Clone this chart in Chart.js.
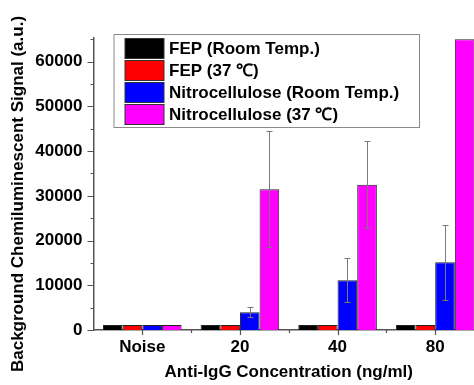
<!DOCTYPE html>
<html><head><meta charset="utf-8">
<script src="https://cdn.jsdelivr.net/npm/chart.js@4/dist/chart.umd.min.js"></script>
<style>html,body{margin:0;padding:0;background:#fff;overflow:hidden}#wrap{width:474px;height:385px;overflow:hidden}canvas{display:block}</style>
</head><body><div id="wrap"><canvas id="c" width="495" height="385" style="width:495px;height:385px"></canvas></div>
<script>
const categories = ['Noise', '20', '40', '80'];
const seriesLabels = ['FEP (Room Temp.)', 'FEP (37 ℃)', 'Nitrocellulose (Room Temp.)', 'Nitrocellulose (37 ℃)'];
const fepRoom = [1100, 1100, 1100, 1100];
const fep37 = [1100, 1100, 1100, 1100];
const nitroRoom = [1100, 3950, 11150, 15150];
const nitro37 = [1100, 31500, 32500, 65000];
const fepRoomErr = [0, 0, 0, 0];
const fep37Err = [0, 0, 0, 0];
const nitroRoomErr = [0, 1120, 4950, 8400];
const nitro37Err = [0, 12900, 9800, 0];
const yTicks = [0, 10000, 20000, 30000, 40000, 50000, 60000];
const yMinorStep = 5000;
const yMax = 65300;
const xTitle = 'Anti-IgG Concentration (ng/ml)';
const yTitle = 'Background Chemiluminescent Signal (a.u.)';

const FONT = '"Liberation Sans", Arial, Helvetica, sans-serif';
const FS = 17;
const colors = ['#000000', '#ff0000', '#0000ff', '#ff00ff'];
const values = [fepRoom, fep37, nitroRoom, nitro37];
const errs = [fepRoomErr, fep37Err, nitroRoomErr, nitro37Err];

const decor = {
  id: 'decor',
  afterDatasetsDraw(chart) {
    const ctx = chart.ctx, ys = chart.scales.y, a = chart.chartArea;
    ctx.save();
    ctx.beginPath(); ctx.rect(a.left, a.top, a.right - a.left, a.bottom - a.top); ctx.clip();
    ctx.strokeStyle = '#7a7a7a'; ctx.lineWidth = 1;
    chart.data.datasets.forEach((ds, di) => {
      const meta = chart.getDatasetMeta(di);
      ds.errors.forEach((e, i) => {
        if (!e) return;
        const bar = meta.data[i];
        const x = Math.round(bar.x) + 0.5;
        const v = ds.data[i];
        const yt = Math.round(ys.getPixelForValue(v + e)) + 0.5;
        const yb = Math.round(ys.getPixelForValue(v - e)) + 0.5;
        ctx.beginPath();
        ctx.moveTo(x, yt); ctx.lineTo(x, yb);
        ctx.moveTo(x - 3, yt); ctx.lineTo(x + 3, yt);
        ctx.moveTo(x - 3, yb); ctx.lineTo(x + 3, yb);
        ctx.stroke();
      });
    });
    ctx.restore();
  },
  afterDraw(chart) {
    const ctx = chart.ctx, ys = chart.scales.y, xs = chart.scales.x, a = chart.chartArea;
    ctx.save();
    ctx.strokeStyle = '#555'; ctx.lineWidth = 1.2;
    ctx.beginPath();
    for (let v = 0; v <= yMax; v += yMinorStep) {
      const y = Math.round(ys.getPixelForValue(v)) + 0.5;
      const major = yTicks.includes(v);
      ctx.moveTo(a.left - (major ? 6 : 3), y); ctx.lineTo(a.left, y);
    }
    categories.forEach((c, i) => {
      const x = Math.round(xs.getPixelForValue(i)) + 0.5;
      ctx.moveTo(x, a.bottom); ctx.lineTo(x, a.bottom + 5);
      const xb = Math.round(xs.getPixelForValue(i + 0.5)) + 0.5;
      ctx.moveTo(xb, a.bottom); ctx.lineTo(xb, a.bottom + 3);
    });
    ctx.stroke();
    ctx.fillStyle = '#000';
    ctx.font = 'bold ' + FS + 'px ' + FONT;
    ctx.textAlign = 'center'; ctx.textBaseline = 'middle';
    ctx.save();
    ctx.translate(18, 194);
    ctx.rotate(-Math.PI / 2);
    ctx.fillText(yTitle, 0, 0);
    ctx.restore();
    const lx = a.left + 20, ly = a.top - 4, lw = 305.5, lh = 93;
    ctx.fillStyle = '#fff';
    ctx.fillRect(lx, ly, lw, lh);
    ctx.strokeStyle = '#8a8a8a'; ctx.lineWidth = 1;
    ctx.strokeRect(lx + 0.5, ly + 0.5, lw, lh);
    ctx.textAlign = 'left'; ctx.textBaseline = 'middle';
    chart.data.datasets.forEach((ds, i) => {
      const ry = ly + 4.5 + i * 22;
      ctx.fillStyle = ds.backgroundColor;
      ctx.fillRect(lx + 11.5, ry, 39, 20);
      ctx.strokeStyle = '#333';
      ctx.strokeRect(lx + 11.5, ry, 39, 20);
      ctx.fillStyle = '#000';
      ctx.fillText(ds.label, lx + 55.5, ry + 10.5);
    });
    ctx.restore();
  }
};

new Chart(document.getElementById('c'), {
  type: 'bar',
  data: {
    labels: categories,
    datasets: values.map((d, i) => ({
      label: seriesLabels[i],
      data: d,
      errors: errs[i],
      backgroundColor: colors[i],
      borderColor: '#222',
      borderWidth: 1,
      categoryPercentage: 0.805,
      barPercentage: 1
    }))
  },
  options: {
    responsive: false,
    animation: false,
    layout: { padding: { left: 0, top: 38, right: 11, bottom: 0 } },
    plugins: { legend: { display: false }, tooltip: { enabled: false } },
    scales: {
      x: {
        type: 'category',
        offset: true,
        grid: { display: false, drawTicks: false },
        border: { display: true, color: '#555', width: 1.5 },
        ticks: { color: '#000', font: { family: FONT, size: FS, weight: 'bold' }, padding: 7, maxRotation: 0 },
        title: { display: true, text: xTitle, color: '#000', font: { family: FONT, size: FS, weight: 'bold' }, padding: { top: 0, bottom: 2 } },
        afterFit: s => { s.height = 55; }
      },
      y: {
        min: 0, max: yMax,
        afterBuildTicks: s => { s.ticks = yTicks.map(v => ({ value: v })); },
        grid: { display: false, drawTicks: false },
        border: { display: true, color: '#555', width: 1.5 },
        ticks: { color: '#000', font: { family: FONT, size: FS, weight: 'bold' }, padding: 11, callback: v => String(v) },
        afterFit: s => { s.width = 93.5; }
      }
    }
  },
  plugins: [decor]
});
</script></body></html>
